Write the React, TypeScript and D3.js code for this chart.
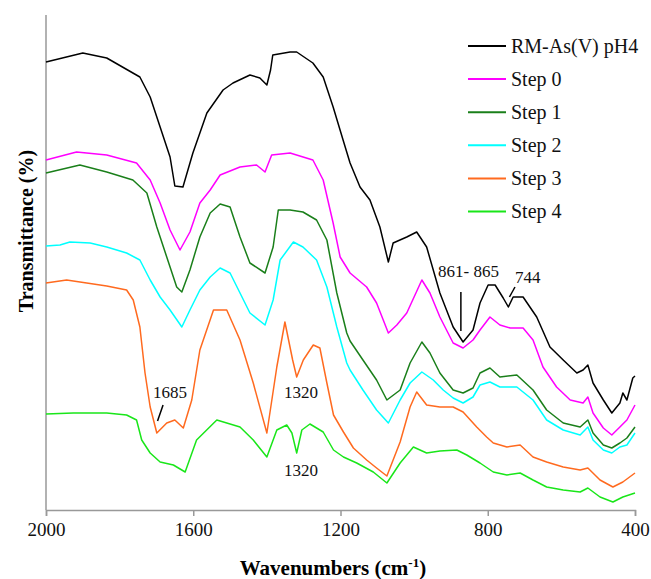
import React, { useEffect, useRef } from "react";
import * as d3 from "d3";

// spectra: [wavenumber (cm-1), transmittance (arbitrary, offset)]
const rmAsV = [
  [2000, 448], [1900, 457], [1835, 452], [1745, 433], [1717, 413], [1690, 383],
  [1663, 353], [1650, 324], [1628, 323], [1601, 357], [1582, 377], [1563, 397],
  [1519, 420], [1492, 427], [1446, 435], [1419, 432], [1400, 425], [1390, 440],
  [1384, 455], [1337, 458], [1319, 458], [1275, 447], [1247, 433], [1220, 403],
  [1193, 370], [1174, 347], [1147, 323], [1120, 310], [1093, 283], [1070, 248],
  [1057, 267], [1020, 273], [993, 278], [966, 263], [930, 217], [894, 183],
  [867, 168], [840, 180], [821, 207], [799, 225], [780, 225], [758, 212],
  [744, 203], [731, 213], [704, 213], [667, 193], [631, 163], [595, 150],
  [558, 137], [541, 140], [528, 145], [514, 127], [486, 110], [463, 97],
  [441, 107], [433, 117], [422, 110], [406, 132], [400, 134],
];

const step0 = [
  [2000, 350], [1917, 358], [1835, 355], [1754, 347], [1717, 330], [1690, 307],
  [1663, 280], [1636, 260], [1609, 278], [1582, 307], [1554, 320], [1527, 335],
  [1473, 343], [1428, 345], [1405, 338], [1387, 355], [1337, 357], [1275, 350],
  [1247, 330], [1220, 287], [1201, 253], [1174, 237], [1129, 223], [1102, 207],
  [1070, 177], [1047, 185], [1020, 197], [979, 230], [957, 217], [930, 193],
  [894, 167], [867, 162], [840, 170], [821, 180], [794, 193], [767, 185],
  [739, 182], [704, 182], [677, 170], [650, 143], [613, 123], [576, 110],
  [541, 107], [528, 113], [514, 97], [486, 82], [463, 75], [441, 83],
  [422, 90], [400, 105],
];

const step1 = [
  [2000, 337], [1908, 345], [1835, 338], [1764, 330], [1726, 317], [1699, 283],
  [1672, 253], [1645, 223], [1631, 218], [1609, 240], [1582, 273], [1554, 297],
  [1527, 306], [1500, 303], [1473, 273], [1446, 247], [1405, 237], [1383, 263],
  [1369, 300], [1337, 300], [1302, 298], [1265, 290], [1237, 270], [1210, 217],
  [1183, 177], [1174, 169], [1139, 150], [1102, 130], [1074, 110], [1038, 120],
  [1011, 147], [979, 168], [957, 157], [930, 137], [894, 120], [867, 117],
  [840, 122], [821, 137], [794, 142], [767, 133], [721, 135], [677, 120],
  [640, 100], [595, 87], [549, 83], [528, 90], [514, 77], [486, 65],
  [463, 62], [441, 67], [422, 72], [400, 83],
];

const step2 = [
  [2000, 264], [1962, 265], [1935, 268], [1880, 267], [1835, 263], [1781, 257],
  [1745, 250], [1717, 230], [1690, 213], [1663, 200], [1631, 183], [1609, 200],
  [1582, 220], [1554, 233], [1527, 242], [1500, 237], [1473, 217], [1446, 197],
  [1405, 185], [1383, 210], [1364, 250], [1328, 268], [1302, 263], [1265, 250],
  [1237, 223], [1210, 183], [1183, 147], [1174, 140], [1139, 120], [1102, 100],
  [1070, 87], [1038, 110], [1011, 127], [979, 138], [948, 130], [921, 120],
  [894, 112], [867, 107], [840, 113], [821, 125], [794, 128], [767, 123],
  [721, 123], [677, 110], [640, 90], [595, 80], [549, 75], [528, 83],
  [514, 70], [486, 60], [463, 57], [441, 63], [422, 65], [400, 77],
];

const step3 = [
  [2000, 227], [1944, 230], [1835, 224], [1781, 220], [1763, 210], [1745, 183],
  [1731, 137], [1717, 103], [1699, 77], [1672, 87], [1650, 90], [1627, 82],
  [1604, 110], [1582, 160], [1545, 200], [1509, 200], [1473, 170], [1437, 127],
  [1400, 77], [1373, 143], [1351, 188], [1330, 150], [1319, 133], [1301, 150],
  [1274, 165], [1256, 162], [1237, 127], [1219, 95], [1192, 78], [1165, 62],
  [1129, 50], [1102, 42], [1074, 34], [1038, 68], [1011, 103], [993, 118],
  [966, 105], [930, 103], [894, 103], [867, 98], [830, 83], [803, 73],
  [785, 67], [748, 63], [712, 65], [677, 53], [640, 48], [595, 43],
  [549, 40], [528, 42], [495, 30], [460, 23], [433, 28], [400, 37],
];

const step4 = [
  [2000, 96], [1926, 97], [1835, 97], [1781, 95], [1754, 90], [1740, 70],
  [1717, 57], [1690, 48], [1654, 45], [1622, 38], [1591, 70], [1536, 90],
  [1473, 83], [1437, 70], [1400, 53], [1373, 80], [1346, 85], [1332, 77],
  [1319, 57], [1305, 80], [1283, 86], [1247, 78], [1219, 60], [1192, 53],
  [1156, 47], [1111, 38], [1074, 27], [1038, 47], [1002, 63], [966, 57],
  [930, 59], [884, 60], [857, 55], [821, 47], [785, 38], [748, 35],
  [712, 37], [677, 30], [640, 23], [595, 20], [549, 18], [528, 22],
  [495, 13], [460, 8], [433, 13], [400, 17],
];

const seriesNames = ["RM-As(V) pH4", "Step 0", "Step 1", "Step 2", "Step 3", "Step 4"];
const seriesData = [rmAsV, step0, step1, step2, step3, step4];
const seriesColors = ["#000000", "#ff00ff", "#1a7f1a", "#00ffff", "#ff6a1f", "#19e619"];

const xTicks = [2000, 1600, 1200, 800, 400];

// peak labels: [text, wavenumber, value, anchor]
const peakLabels = [
  ["1685", 1663, 112, "middle"],
  ["1320", 1307, 112, "middle"],
  ["1320", 1307, 34, "middle"],
  ["861- 865", 935, 233, "start"],
  ["744", 726, 227, "start"],
];
// leader lines: [w1, v1, w2, v2]
const peakLines = [
  [1682, 105, 1697, 89],
  [873, 218, 873, 179],
  [726, 223, 741, 213],
];

const App = () => {
  const svgRef = useRef();

  useEffect(() => {
    document.body.style.margin = "0";
    const width = 651;
    const height = 579;
    const margin = { top: 15, right: 16, bottom: 69, left: 46 };

    const svg = d3.select(svgRef.current);
    svg.selectAll("*").remove();
    svg.attr("width", width).attr("height", height);

    const x = d3.scaleLinear()
      .domain([2000, 400])
      .range([margin.left, width - margin.right]);
    const y = d3.scaleLinear()
      .domain([0, 495])
      .range([height - margin.bottom, margin.top]);

    const serif = "'Liberation Serif', 'Times New Roman', serif";

    // x axis
    const xAxis = svg.append("g")
      .attr("transform", `translate(0,${height - margin.bottom})`)
      .call(d3.axisBottom(x).tickValues(xTicks).tickSize(6).tickPadding(7).tickFormat(d3.format("d")));
    xAxis.select(".domain").attr("stroke", "#999").attr("stroke-width", 1.5);
    xAxis.selectAll(".tick line").attr("stroke", "#999").attr("stroke-width", 1.5);
    xAxis.selectAll(".tick text")
      .attr("fill", "#111")
      .style("font-family", serif)
      .style("font-size", "19px");

    // y axis (no ticks)
    svg.append("line")
      .attr("x1", x(2000)).attr("x2", x(2000))
      .attr("y1", y(495)).attr("y2", y(0))
      .attr("stroke", "#999")
      .attr("stroke-width", 1.5);

    const line = d3.line()
      .x(d => x(d[0]))
      .y(d => y(d[1]));

    svg.selectAll(".spectrum")
      .data(seriesData)
      .enter()
      .append("path")
      .attr("class", "spectrum")
      .attr("d", d => line(d))
      .attr("fill", "none")
      .attr("stroke", (d, i) => seriesColors[i])
      .attr("stroke-width", 1.5)
      .attr("stroke-linejoin", "round");

    // peak annotations
    svg.selectAll(".peak")
      .data(peakLabels)
      .enter()
      .append("text")
      .attr("class", "peak")
      .attr("x", d => x(d[1]))
      .attr("y", d => y(d[2]))
      .attr("text-anchor", d => d[3])
      .style("font-family", serif)
      .style("font-size", "17px")
      .attr("fill", "#111")
      .text(d => d[0]);

    svg.selectAll(".leader")
      .data(peakLines)
      .enter()
      .append("line")
      .attr("class", "leader")
      .attr("x1", d => x(d[0]))
      .attr("y1", d => y(d[1]))
      .attr("x2", d => x(d[2]))
      .attr("y2", d => y(d[3]))
      .attr("stroke", "#000")
      .attr("stroke-width", 1.5);

    // legend
    const legend = svg.append("g").attr("transform", "translate(468,46)");
    const rows = legend.selectAll("g")
      .data(seriesNames)
      .enter()
      .append("g")
      .attr("transform", (d, i) => `translate(0,${i * 33.1})`);
    rows.append("line")
      .attr("x1", 0).attr("x2", 38)
      .attr("stroke", (d, i) => seriesColors[i])
      .attr("stroke-width", 2);
    rows.append("text")
      .attr("x", 43)
      .attr("dy", "0.33em")
      .style("font-family", serif)
      .style("font-size", "20px")
      .attr("fill", "#111")
      .text(d => d);

    // axis titles
    const xTitle = svg.append("text")
      .attr("x", 333)
      .attr("y", 575)
      .attr("text-anchor", "middle")
      .style("font-family", serif)
      .style("font-size", "21px")
      .style("font-weight", "bold")
      .text("Wavenumbers (cm");
    xTitle.append("tspan")
      .attr("dy", -8)
      .style("font-size", "13px")
      .text("-1");
    xTitle.append("tspan")
      .attr("dy", 8)
      .text(")");

    svg.append("text")
      .attr("transform", "translate(33,231) rotate(-90)")
      .attr("text-anchor", "middle")
      .style("font-family", serif)
      .style("font-size", "20px")
      .style("font-weight", "bold")
      .text("Transmittance (%)");
  }, []);

  return (
    <div>
      <svg ref={svgRef}></svg>
    </div>
  );
};

export default App;
